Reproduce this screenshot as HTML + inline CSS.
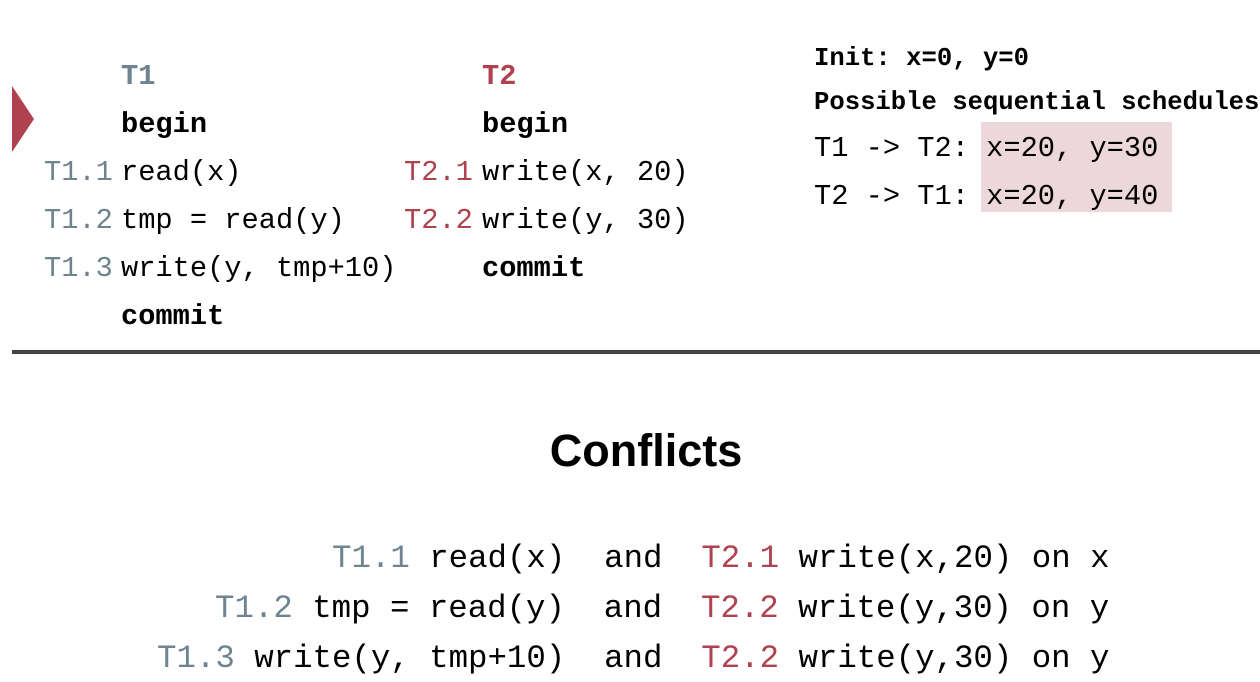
<!DOCTYPE html>
<html><head><meta charset="utf-8"><style>
body{margin:0;width:1260px;height:682px;background:#fff;position:relative;overflow:hidden;font-family:"Liberation Mono",monospace;color:#000}
.a{position:absolute;white-space:pre;line-height:1}
.g{color:#6e8490}.r{color:#b0424f}.b{font-weight:bold}
.t{font-size:28.7px}
.s{font-size:25.6px;font-weight:bold}
.c{font-size:32.4px}
</style></head><body>
<div style="position:absolute;left:12px;top:86px;width:0;height:0;border-top:33px solid transparent;border-bottom:33px solid transparent;border-left:22px solid #b0424f"></div>
<div class="a t b g" style="left:121px;top:63px">T1</div>
<div class="a t b" style="left:121px;top:111px">begin</div>
<div class="a t g" style="left:44px;top:159px">T1.1</div><div class="a t" style="left:121px;top:159px">read(x)</div>
<div class="a t g" style="left:44px;top:207px">T1.2</div><div class="a t" style="left:121px;top:207px">tmp = read(y)</div>
<div class="a t g" style="left:44px;top:255px">T1.3</div><div class="a t" style="left:121px;top:255px">write(y, tmp+10)</div>
<div class="a t b" style="left:121px;top:303px">commit</div>
<div class="a t b r" style="left:482px;top:63px">T2</div>
<div class="a t b" style="left:482px;top:111px">begin</div>
<div class="a t r" style="left:404px;top:159px">T2.1</div><div class="a t" style="left:482px;top:159px">write(x, 20)</div>
<div class="a t r" style="left:404px;top:207px">T2.2</div><div class="a t" style="left:482px;top:207px">write(y, 30)</div>
<div class="a t b" style="left:482px;top:255px">commit</div>
<div style="position:absolute;left:981px;top:122px;width:191px;height:90px;background:#ecd7da"></div>
<div class="a s" style="left:814px;top:46px">Init: x=0, y=0</div>
<div class="a s" style="left:814px;top:90px">Possible sequential schedules</div>
<div class="a t" style="left:814px;top:135px">T1 -&gt; T2: x=20, y=30</div>
<div class="a t" style="left:814px;top:183px">T2 -&gt; T1: x=20, y=40</div>
<div style="position:absolute;left:12px;top:350px;width:1248px;height:4px;background:#444"></div>
<div class="a" style="left:0;width:1292px;text-align:center;top:428px;font-family:'Liberation Sans',sans-serif;font-weight:bold;font-size:45px">Conflicts</div>
<div class="a c" style="left:332px;top:543px"><span class="g">T1.1</span> read(x)  and  <span class="r">T2.1</span> write(x,20) on x</div>
<div class="a c" style="left:215px;top:593px"><span class="g">T1.2</span> tmp = read(y)  and  <span class="r">T2.2</span> write(y,30) on y</div>
<div class="a c" style="left:157px;top:643px"><span class="g">T1.3</span> write(y, tmp+10)  and  <span class="r">T2.2</span> write(y,30) on y</div>
</body></html>
